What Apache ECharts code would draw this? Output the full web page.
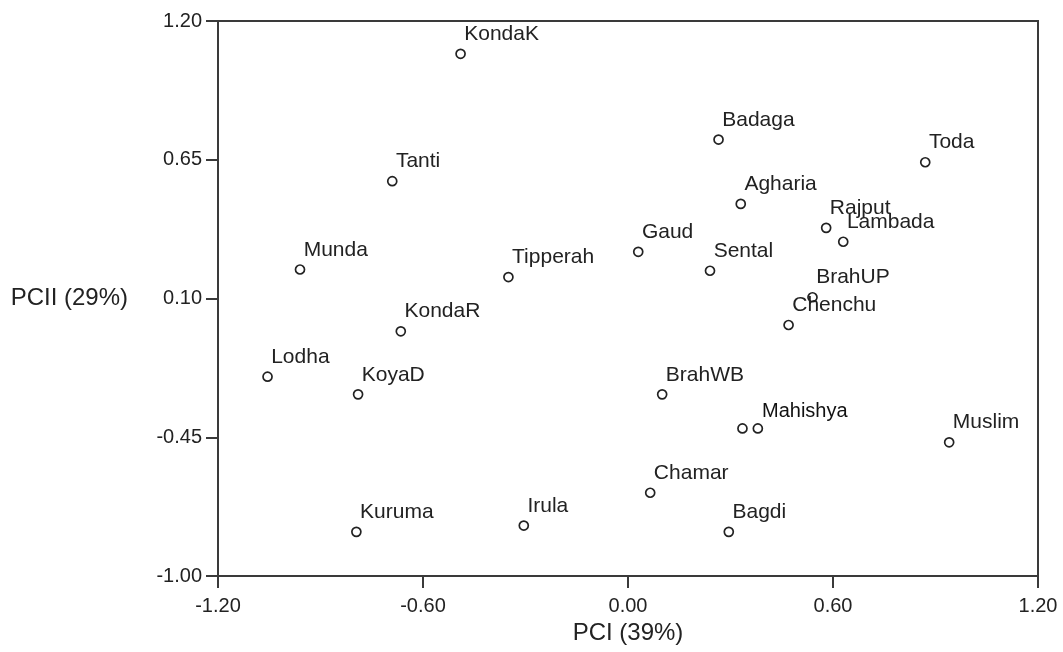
<!DOCTYPE html>
<html>
<head>
<meta charset="utf-8">
<script src="https://cdn.jsdelivr.net/npm/echarts@6/dist/echarts.min.js"></script>
<style>
html,body{margin:0;padding:0;background:#fff;}
#chart{width:1063px;height:652px;}
</style>
</head>
<body>
<div id="chart"></div>
<script>
// Population names (one unlabeled point next to Mahishya)
const names = ['KondaK','Tanti','Munda','Tipperah','Badaga','Toda','Agharia','Rajput','Lambada','Gaud','Sental','BrahUP','Chenchu','KondaR','Lodha','KoyaD','BrahWB','','Mahishya','Muslim','Chamar','Bagdi','Irula','Kuruma'];
// PCI (39%) scores
const pc1 = [-0.49,-0.69,-0.96,-0.35,0.265,0.87,0.33,0.58,0.63,0.03,0.24,0.54,0.47,-0.665,-1.055,-0.79,0.10,0.335,0.38,0.94,0.065,0.295,-0.305,-0.795];
// PCII (29%) scores
const pc2 = [1.07,0.565,0.215,0.185,0.73,0.64,0.475,0.38,0.325,0.285,0.21,0.105,-0.005,-0.03,-0.21,-0.28,-0.28,-0.415,-0.415,-0.47,-0.67,-0.825,-0.80,-0.825];
// Tick values
const xTicks = [-1.20,-0.60,0.00,0.60,1.20];
const yTicks = [-1.00,-0.45,0.10,0.65,1.20];

const axisColor = '#3a3a3a';
const chart = echarts.init(document.getElementById('chart'), null, {renderer:'canvas'});

const data = names.map((n,i)=>{
  const d = {name:n, value:[pc1[i], pc2[i]]};
  if (n === 'Mahishya') {
    d.label = {fontSize:20, color:'#111', position:[9.5,-12]};
  }
  return d;
});

chart.setOption({
  animation:false,
  backgroundColor:'#fff',
  grid:{left:218, right:25, top:21, bottom:76, show:true, borderColor:axisColor, borderWidth:2, backgroundColor:'transparent'},
  xAxis:{
    type:'value', min:-1.2, max:1.2,
    name:'PCI (39%)', nameLocation:'middle', nameGap:40,
    nameTextStyle:{fontFamily:'Liberation Sans, Arial, sans-serif', fontSize:24, color:'#222'},
    axisLine:{show:true, onZero:false, lineStyle:{color:axisColor, width:2}},
    axisTick:{show:true, length:12, lineStyle:{color:axisColor, width:2}, customValues:xTicks},
    axisLabel:{margin:20, fontFamily:'Liberation Sans, Arial, sans-serif', fontSize:20, color:'#222',
      customValues:xTicks, formatter:v=>v.toFixed(2)},
    splitLine:{show:false}
  },
  yAxis:{
    type:'value', min:-1.0, max:1.2,
    name:'PCII (29%)', nameLocation:'middle', nameGap:90, nameRotate:0,
    nameTextStyle:{fontFamily:'Liberation Sans, Arial, sans-serif', fontSize:24, color:'#222', align:'right', verticalAlign:'middle', padding:[8,0,0,0]},
    axisLine:{show:true, onZero:false, lineStyle:{color:axisColor, width:2}},
    axisTick:{show:true, length:12, lineStyle:{color:axisColor, width:2}, customValues:yTicks},
    axisLabel:{margin:16, fontFamily:'Liberation Sans, Arial, sans-serif', fontSize:20, color:'#222',
      customValues:yTicks, formatter:v=>v.toFixed(2)},
    splitLine:{show:false}
  },
  series:[{
    type:'scatter',
    data:data,
    symbol:'circle',
    symbolSize:9,
    itemStyle:{color:'#fff', borderColor:'#222', borderWidth:1.7, opacity:1},
    label:{
      show:true,
      formatter:p=>p.name,
      position:[9,-14.3],
      align:'left', verticalAlign:'middle',
      fontFamily:'Liberation Sans, Arial, sans-serif',
      fontSize:21, color:'#222'
    },
    emphasis:{disabled:true}
  }]
});
</script>
</body>
</html>
